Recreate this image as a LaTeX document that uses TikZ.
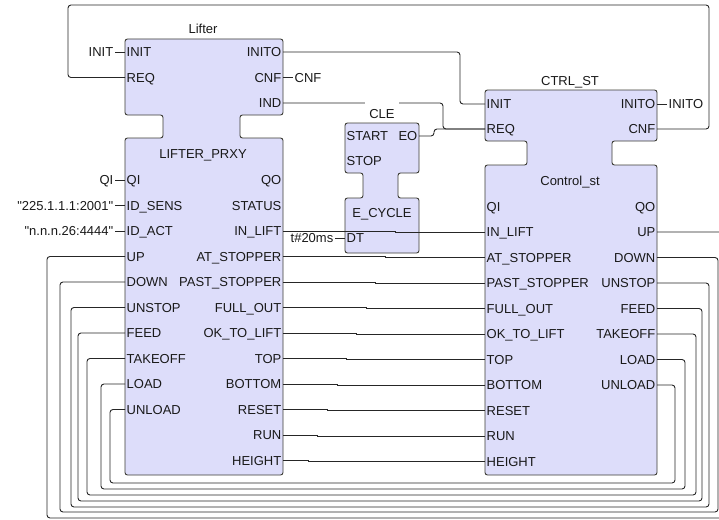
\documentclass[tikz,border=0pt]{standalone}
\usepackage{fontspec}
\newfontfamily\fbfam{Liberation Sans}
\usetikzlibrary{positioning}
\definecolor{fbfill}{RGB}{221,221,250}
\definecolor{fbedge}{RGB}{60,60,52}
\newcommand{\fbfont}{\fbfam\fontsize{13}{15}\selectfont}
% outline of a function block: x1 x2 ytop yneck1 yneck2 ybot neckx1 neckx2
\newcommand{\fbshape}[8]{%
  \draw[fbline] (#1,#3) -- (#2,#3) -- (#2,#4) -- (#8,#4) -- (#8,#5) -- (#2,#5)
    -- (#2,#6) -- (#1,#6) -- (#1,#5) -- (#7,#5) -- (#7,#4) -- (#1,#4) -- cycle;
}
\tikzset{
	fbline/.style={draw=fbedge, fill=fbfill, line width=0.9pt, rounded corners=2.5pt}
}
\tikzset{
	fbtext/.style={font=\fbfont, text height=9.3pt, text depth=0pt, inner sep=1.5pt, text=black!90},
	inport/.style={fbtext, anchor=west},
	outport/.style={fbtext, anchor=east},
	fbtitle/.style={fbtext},
	fbconst/.style={fbtext},
	fbwire/.style={draw=black!85, line width=0.9pt},
	fbloop/.style={fbwire, rounded corners=3pt}
}

\begin{document}
\begin{tikzpicture}[x=1pt, y=-1pt]
  \useasboundingbox (0,0) rectangle (719,519);
  \clip (0,0) rectangle (719,519);
  % blocks
  \fbshape{125}{283}{39}{115}{138}{475}{163}{240}
  \fbshape{485}{657}{90}{141}{165}{475}{527}{612}
  \fbshape{345}{419}{123}{173}{198}{253}{363}{398}

  % Lifter
  \node[fbtitle] (lf-title) at (203,29) {Lifter};
  \node[inport] (lf-INIT) at (125,52) {INIT};
  \node[inport] (lf-REQ) at (125,77.5) {REQ};
  \node[outport] (lf-INITO) at (283,52) {INITO};
  \node[outport] (lf-CNF) at (283,77.5) {CNF};
  \node[outport] (lf-IND) at (283,103) {IND};
  \node[fbtitle] (lp-title) at (203,154) {LIFTER\_PRXY};
  \foreach \lbl [count=\i] in {QI, ID\_SENS, ID\_ACT, UP, DOWN, UNSTOP, FEED, TAKEOFF, LOAD, UNLOAD}
    \node[inport] (lp-l\i) at (125,{154.5+25.5*\i}) {\lbl};
  \foreach \lbl [count=\i] in {QO, STATUS, IN\_LIFT, AT\_STOPPER, PAST\_STOPPER, FULL\_OUT,
      OK\_TO\_LIFT, TOP, BOTTOM, RESET, RUN, HEIGHT}
    \node[outport] (lp-r\i) at (283,{154.5+25.5*\i}) {\lbl};

  % CTRL_ST
  \node[fbtitle] (ct-title) at (570,81) {CTRL\_ST};
  \node[inport] (ct-INIT) at (485,104) {INIT};
  \node[inport] (ct-REQ) at (485,129) {REQ};
  \node[outport] (ct-INITO) at (657,104) {INITO};
  \node[outport] (ct-CNF) at (657,129) {CNF};
  \node[fbtitle] (cs-title) at (570,181) {Control\_st};
  \foreach \lbl [count=\i] in {QI, IN\_LIFT, AT\_STOPPER, PAST\_STOPPER, FULL\_OUT,
      OK\_TO\_LIFT, TOP, BOTTOM, RESET, RUN, HEIGHT}
    \node[inport] (cs-l\i) at (485,{181+25.5*\i}) {\lbl};
  \foreach \lbl [count=\i] in {QO, UP, DOWN, UNSTOP, FEED, TAKEOFF, LOAD, UNLOAD}
    \node[outport] (cs-r\i) at (657,{181+25.5*\i}) {\lbl};

  % CLE
  \node[inport] (cl-START) at (345,136) {START};
  \node[inport] (cl-STOP) at (345,161) {STOP};
  \node[outport] (cl-EO) at (419,136) {EO};
  \node[fbtitle] (cl-type) at (382,213) {E\_CYCLE};
  \node[inport] (cl-DT) at (345,238) {DT};

  % constants
  \node[fbconst, left=10pt of lf-INIT] (c-init) {INIT};
  \node[fbconst, right=10pt of lf-CNF] (c-cnf) {CNF};
  \node[fbconst, left=10pt of lp-l1] (c-qi) {QI};
  \node[fbconst, left=10pt of lp-l2] (c-sens) {"225.1.1.1:2001"};
  \node[fbconst, left=10pt of lp-l3] (c-act) {"n.n.n.26:4444"};
  \node[fbconst, left=10pt of cl-DT] (c-dt) {t\#20ms};
  \node[fbconst, right=10pt of ct-INITO] (c-inito) {INITO};
  \draw[fbwire] (c-init) -- (lf-INIT.west);
  \draw[fbwire] (lf-CNF.east) -- (c-cnf);
  \draw[fbwire] (c-qi) -- (lp-l1.west);
  \draw[fbwire] (c-sens) -- (lp-l2.west);
  \draw[fbwire] (c-act) -- (lp-l3.west);
  \draw[fbwire] (c-dt) -- (cl-DT.west);
  \draw[fbwire] (ct-INITO.east) -- (c-inito);

  % event connections
  \draw[fbloop] (ct-CNF.east) -- ++(52,0) |- (68,5) |- (lf-REQ.west);
  \draw[fbloop] (lf-INITO.east) -- ++(177,0) |- (ct-INIT.west);
  \draw[fbloop] (lf-IND.east) -- ++(160,0) |- (ct-REQ.west);
  \draw[fbloop] (cl-EO.east) -- ++(15,0) |- (ct-REQ.west);

  % data: proxy outputs to controller inputs
  \foreach \i [evaluate=\i as \dx using 112-9.65*(\i-2), evaluate=\i as \j using int(\i+1)] in {2,...,11}
    \draw[fbwire] (lp-r\j.east) -- ++(\dx,0) |- (cs-l\i.west);

  % data: controller outputs back round the bottom
  \foreach \i/\rx/\by/\lx [evaluate=\i as \j using int(\i+2)] in
      {2/730/518/47, 3/718/512/60, 4/709/507/71, 5/702/501/78,
       6/696/495/87, 7/685/489/101, 8/675/483/110}
    \draw[fbloop] (cs-r\i.east) -| (\rx,\by) -- (\lx,\by) |- (lp-l\j.west);

  \node[fbtitle, fill=white, text height=17pt, inner xsep=4pt, anchor=base] (cl-title) at (382,118) {CLE};
\end{tikzpicture}
\end{document}
